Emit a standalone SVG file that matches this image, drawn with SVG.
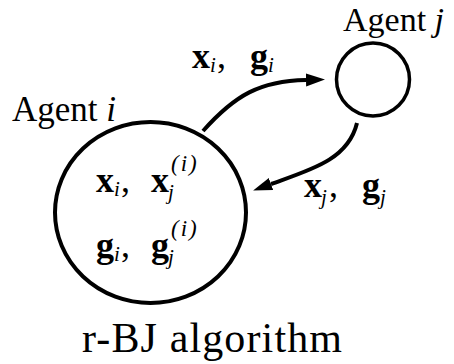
<svg xmlns="http://www.w3.org/2000/svg" width="454" height="364" viewBox="0 0 454 364">
<style>
text{font-family:"Liberation Serif","DejaVu Serif",serif;fill:#000}
.lab{font-size:35px}
.m{font-size:36px}
.b{font-weight:bold}
.s{font-style:italic;font-size:21px}
.p{font-style:italic;font-size:23px;letter-spacing:2px}
.node{fill:none;stroke:#000}
.edge{fill:none;stroke:#000;stroke-width:4}
</style>
<defs>
<marker id="ah" markerWidth="20" markerHeight="14" refX="0" refY="6.5" orient="auto" markerUnits="userSpaceOnUse">
<path d="M0,0 L19,6.5 L0,13 Z" fill="#000"/>
</marker>
</defs>
<g id="agent-i">
<ellipse class="node" cx="150.5" cy="212.5" rx="95.5" ry="90.5" stroke-width="4"/>
<text class="lab" x="12" y="120.5">Agent <tspan font-style="italic">i</tspan></text>
<text class="m"><tspan class="b" x="96" y="192">x</tspan><tspan class="s" x="114" y="196">i</tspan><tspan x="121" y="192">,</tspan><tspan class="b" x="151" y="192">x</tspan><tspan class="s" x="168" y="199">j</tspan><tspan class="p" x="171" y="171">(i)</tspan></text>
<text class="m"><tspan class="b" x="96" y="257">g</tspan><tspan class="s" x="114" y="261">i</tspan><tspan x="121" y="257">,</tspan><tspan class="b" x="151" y="257">g</tspan><tspan class="s" x="168" y="264">j</tspan><tspan class="p" x="171" y="236">(i)</tspan></text>
</g>
<g id="agent-j">
<circle class="node" cx="373" cy="79.5" r="36.5" stroke-width="3.5"/>
<text x="343" y="31" font-size="34">Agent <tspan font-style="italic">j</tspan></text>
</g>
<g id="connectors">
<path class="edge" d="M203,131 C235,95 260,81 306,80" marker-end="url(#ah)"/>
<path class="edge" d="M357,123 C348,160 310,170 271,184" marker-end="url(#ah)"/>
<text class="m"><tspan class="b" x="192" y="68">x</tspan><tspan class="s" x="210" y="72">i</tspan><tspan x="217" y="68">,</tspan><tspan class="b" x="250" y="68">g</tspan><tspan class="s" x="268" y="72">i</tspan></text>
<text class="m"><tspan class="b" x="304" y="197">x</tspan><tspan class="s" x="321" y="204">j</tspan><tspan x="329" y="197">,</tspan><tspan class="b" x="362" y="197">g</tspan><tspan class="s" x="380" y="204">j</tspan></text>
</g>
<text x="82" y="352" font-size="42" textLength="260" lengthAdjust="spacing">r-BJ algorithm</text>
</svg>
